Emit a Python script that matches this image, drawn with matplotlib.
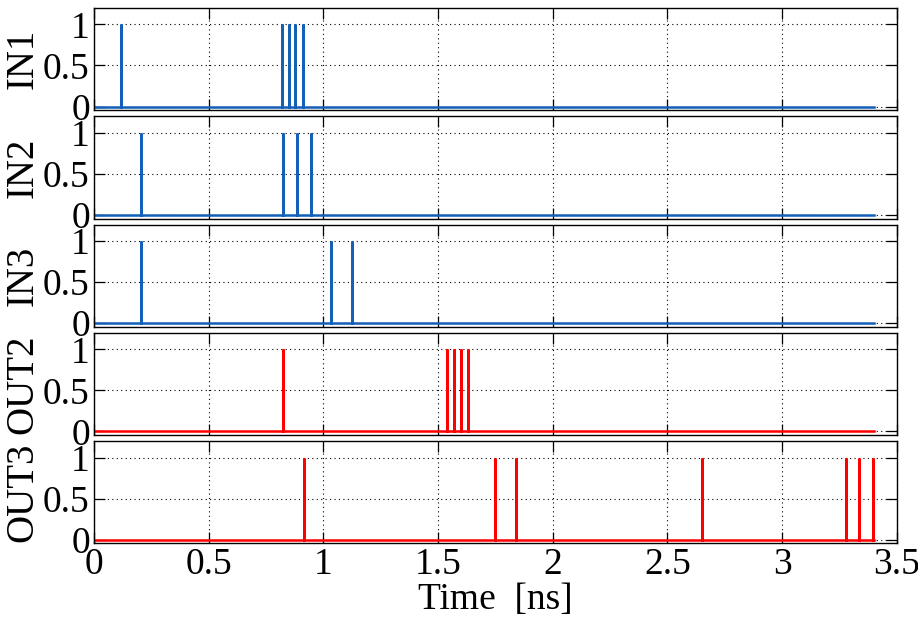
import numpy as np
import matplotlib
matplotlib.use("Agg")
import matplotlib.pyplot as plt

# spike times [ns]
t_end = 3.40
names = ["IN1", "IN2", "IN3", "OUT2", "OUT3"]
spikes = [
    [0.116, 0.819, 0.848, 0.878, 0.909],
    [0.203, 0.826, 0.886, 0.945],
    [0.203, 1.034, 1.125],
    [0.825, 1.540, 1.569, 1.601, 1.632],
    [0.916, 1.749, 1.841, 2.650, 3.278, 3.336, 3.397],
]
colors = ["#1460B8", "#1460B8", "#1460B8", "#FF0000", "#FF0000"]

xticks = [0, 0.5, 1, 1.5, 2, 2.5, 3, 3.5]
xticklabels = ["0", "0.5", "1", "1.5", "2", "2.5", "3", "3.5"]
yticks = [0, 0.5, 1]
yticklabels = ["0", "0.5", "1"]

plt.rcParams["font.family"] = ["Liberation Serif", "DejaVu Serif"]
plt.rcParams["font.size"] = 27

fig, axes = plt.subplots(5, 1, sharex=True, figsize=(9.18, 6.19), dpi=100)
fig.subplots_adjust(left=0.1024, right=0.977, top=0.987, bottom=0.122, hspace=0.06)

for ax, name, sp, col in zip(axes, names, spikes, colors):
    # build a trace: baseline with unit impulses
    tt = [0.0]
    yy = [0.0]
    for s in sp:
        tt += [s, s, s]
        yy += [0, 1, 0]
    tt.append(t_end)
    yy.append(0.0)
    ax.plot(tt, yy, color=col, lw=1.8, solid_joinstyle="miter")
    ax.set_xlim(0, 3.5)
    ax.set_ylim(-0.045, 1.2)
    ax.set_yticks(yticks)
    ax.set_yticklabels(yticklabels)
    ax.set_ylabel(name, labelpad=1, fontsize=28)
    ax.grid(True, color="black", linestyle=(0, (1, 3)), lw=0.8)
    ax.tick_params(direction="in", top=True, right=True, length=8, width=0.9, pad=3)
    for sp_ in ax.spines.values():
        sp_.set_linewidth(1.0)

axes[-1].set_xticks(xticks)
axes[-1].set_xticklabels(xticklabels)
axes[-1].set_xlabel("Time  [ns]", labelpad=0)
fig.align_ylabels(axes)

plt.savefig("out.png", dpi=100)
